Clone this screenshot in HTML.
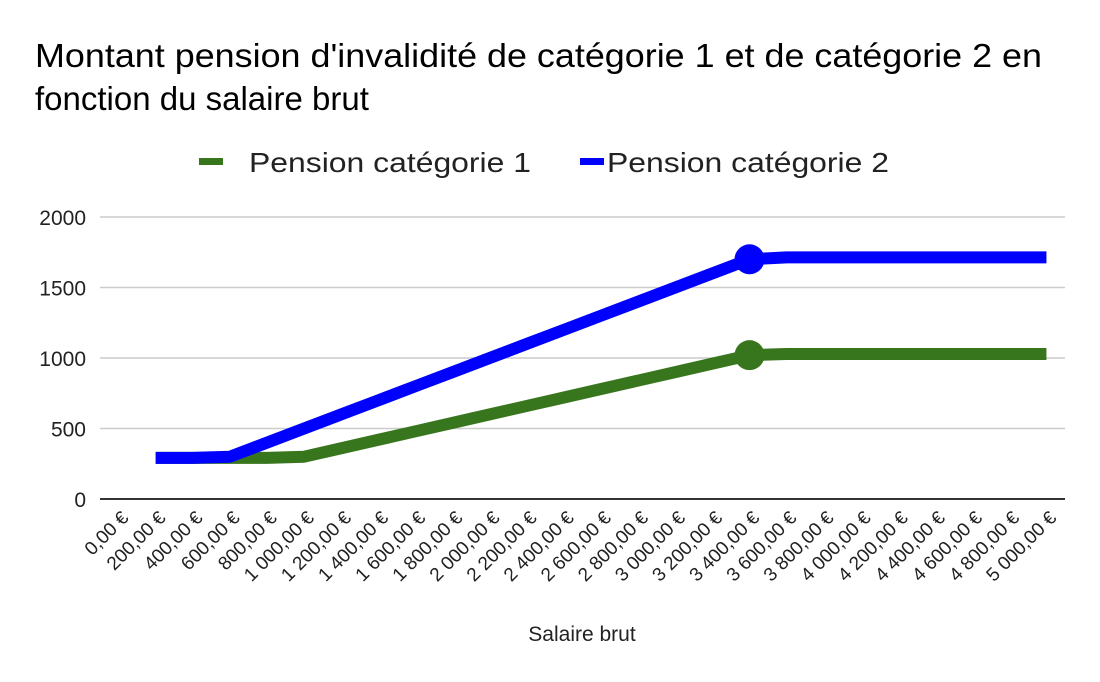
<!DOCTYPE html>
<html><head><meta charset="utf-8"><style>
body{margin:0;background:#fff;}
svg{display:block;font-family:"Liberation Sans",Arial,sans-serif;}
</style></head><body>
<svg id="chart" width="1100" height="682">
<text x="35" y="67" font-size="33" fill="#000" textLength="1007" lengthAdjust="spacingAndGlyphs">Montant pension d'invalidité de catégorie 1 et de catégorie 2 en</text>
<text x="35" y="110" font-size="33" fill="#000">fonction du salaire brut</text>
<g>
<rect x="199" y="158" width="24" height="7" fill="#38761d"/>
<text x="249" y="172" font-size="28" fill="#222" textLength="282" lengthAdjust="spacingAndGlyphs">Pension catégorie 1</text>
<rect x="580" y="158" width="24" height="7" fill="#0000ff"/>
<text x="607" y="172" font-size="28" fill="#222" textLength="282" lengthAdjust="spacingAndGlyphs">Pension catégorie 2</text>
</g>
<g id="grid"></g><g id="yt"></g><g id="xt"></g><g id="series"></g>
<text x="582" y="641" font-size="21" text-anchor="middle" fill="#222">Salaire brut</text>
</svg>
<script>
const categories=[0,200,400,600,800,1000,1200,1400,1600,1800,2000,2200,2400,2600,2800,3000,3200,3400,3600,3800,4000,4200,4400,4600,4800,5000];
const cat1=[null,292,292,292,292,300,360,420,480,540,600,660,720,780,840,900,960,1020,1028,1028,1028,1028,1028,1028,1028,1028];
const cat2=[null,292,292,300,400,500,600,700,800,900,1000,1100,1200,1300,1400,1500,1600,1700,1714,1714,1714,1714,1714,1714,1714,1714];
const yTicks=[0,500,1000,1500,2000];
const markerIndex=17;
const NS="http://www.w3.org/2000/svg";
const L=100,R=1065,Y0=499,Y1=217;
const band=(R-L)/categories.length;
const xs=i=>L+band*(i+0.5);
const ys=v=>Y0-(v/2000)*(Y0-Y1);
function mk(t,a,p){const e=document.createElementNS(NS,t);for(const k in a)e.setAttribute(k,a[k]);p.appendChild(e);return e;}
const grid=document.getElementById('grid'),yt=document.getElementById('yt'),xt=document.getElementById('xt'),ser=document.getElementById('series');
yTicks.forEach(v=>{
 const ln=mk('line',{x1:L,x2:R,y1:ys(v),y2:ys(v),stroke:v===0?'#333':'#ccc','stroke-width':v===0?2:1.5},grid);
 
 
 const t=mk('text',{x:86,y:ys(v)+8,'font-size':21,'text-anchor':'end',fill:'#222'},yt);
 t.textContent=v;
 
 
});
const fmt=v=>{const s=String(v);return (s.length>3?s.slice(0,-3)+' '+s.slice(-3):s)+',00 €';};
categories.forEach((c,i)=>{
 const x=xs(i)+11,y=Y0+20;
 const t=mk('text',{x:x,y:y,'font-size':19,'text-anchor':'end',fill:'#222',transform:`rotate(-45 ${x} ${y})`},xt);
 t.textContent=fmt(c);
 
 
});
function draw(vals,color,name){
 let d='';vals.forEach((v,i)=>{if(v==null)return;d+=(d?'L':'M')+xs(i)+' '+ys(v);});
 const p=mk('path',{d:d,fill:'none',stroke:color,'stroke-width':12,'stroke-linejoin':'round'},ser);
 
 
 const c=mk('circle',{cx:xs(markerIndex),cy:ys(vals[markerIndex]),r:15,fill:color},ser);
 
 
}
draw(cat1,'#38761d','series-cat1');
draw(cat2,'#0000ff','series-cat2');
</script>
</body></html>
